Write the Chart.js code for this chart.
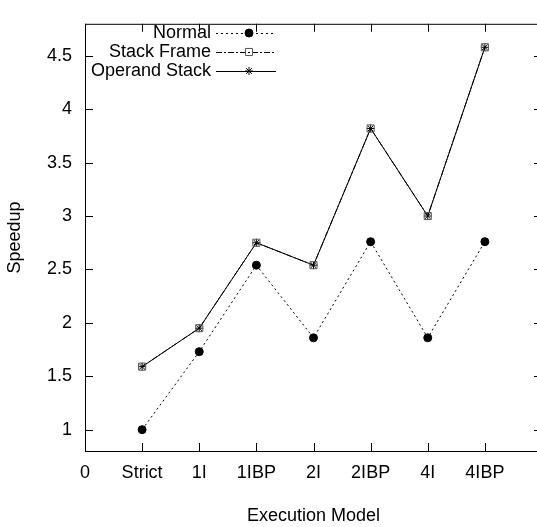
<!DOCTYPE html>
<html>
<head>
<meta charset="utf-8">
<script src="https://cdn.jsdelivr.net/npm/chart.js@4/dist/chart.umd.min.js"></script>
<style>
  html, body { margin: 0; padding: 0; background: #fff; overflow: hidden; }
  #wrap { width: 548px; height: 527px; }
</style>
</head>
<body>
<div id="wrap"><canvas id="chart"></canvas></div>
<script>
// execution models, x = 1..7 (0 is just the axis origin)
const models = ['Strict', '1I', '1IBP', '2I', '2IBP', '4I', '4IBP'];
const xTickLabels = ['0', 'Strict', '1I', '1IBP', '2I', '2IBP', '4I', '4IBP'];
const normal = [1.0, 1.73, 2.54, 1.86, 2.76, 1.86, 2.76];
const stackFrame = [1.59, 1.95, 2.75, 2.54, 3.82, 3.0, 4.58];
const operandStack = [1.59, 1.95, 2.75, 2.54, 3.82, 3.0, 4.58];
const yTicks = [1, 1.5, 2, 2.5, 3, 3.5, 4, 4.5];

const FONT = 'Liberation Sans, Arial, Helvetica, sans-serif';

function points(vals) {
    return vals.map((v, i) => ({ x: i + 1, y: v }));
}

// gnuplot style: frame + inward ticks on all sides, legend top right
const framePlugin = {
    id: 'frame',
    afterDatasetsDraw(chart) {
        const ctx = chart.ctx;
        const a = chart.chartArea;
        const xs = chart.scales.x, ys = chart.scales.y;
        ctx.save();
        ctx.strokeStyle = '#000';
        ctx.lineWidth = 1;
        ctx.strokeRect(a.left + 0.5, a.top + 0.5, a.right - a.left, a.bottom - a.top);
        ctx.beginPath();
        xs.ticks.forEach((t, i) => {
            const px = Math.round(xs.getPixelForTick(i)) + 0.5;
            ctx.moveTo(px, a.bottom); ctx.lineTo(px, a.bottom - 8);
            ctx.moveTo(px, a.top); ctx.lineTo(px, a.top + 8);
        });
        ys.ticks.forEach((t, i) => {
            const py = Math.round(ys.getPixelForTick(i)) + 0.5;
            ctx.moveTo(a.left, py); ctx.lineTo(a.left + 8, py);
            ctx.moveTo(a.right, py); ctx.lineTo(a.right - 8, py);
        });
        ctx.stroke();

        // legend
        ctx.font = '18px ' + FONT;
        ctx.textAlign = 'right';
        ctx.textBaseline = 'middle';
        chart.data.datasets.forEach((ds, i) => {
            const y = 33 + i * 19;
            ctx.fillStyle = '#000';
            ctx.fillText(ds.label, 211, y);
            ctx.beginPath();
            ctx.setLineDash(ds.borderDash || []);
            ctx.strokeStyle = ds.borderColor;
            ctx.lineWidth = ds.borderWidth;
            ctx.moveTo(216, y + 0.5);
            ctx.lineTo(276, y + 0.5);
            ctx.stroke();
            ctx.setLineDash([]);
            ctx.fillStyle = ds.pointBackgroundColor;
            ctx.strokeStyle = ds.pointBorderColor;
            ctx.lineWidth = 1;
            Chart.helpers.drawPoint(ctx, {
                pointStyle: ds.pointStyle,
                radius: ds.pointRadius,
                borderWidth: 1
            }, 249, y);
        });
        ctx.restore();
    }
};

const datasets = [
    {
        label: 'Normal',
        data: points(normal),
        borderColor: '#000',
        borderWidth: 1,
        borderDash: [2, 3],
        pointStyle: 'circle',
        pointRadius: 4,
        pointBackgroundColor: '#000',
        pointBorderColor: '#000'
    },
    {
        label: 'Stack Frame',
        data: points(stackFrame),
        borderColor: '#000',
        borderWidth: 1,
        borderDash: [6, 2, 2, 2],
        pointStyle: 'rect',
        pointRadius: 5,
        pointBackgroundColor: 'rgba(0,0,0,0)',
        pointBorderColor: '#555'
    },
    {
        label: 'Operand Stack',
        data: points(operandStack),
        borderColor: '#000',
        borderWidth: 1,
        pointStyle: 'star',
        pointRadius: 4,
        pointBackgroundColor: 'rgba(0,0,0,0)',
        pointBorderColor: '#000'
    }
];

new Chart(document.getElementById('chart'), {
    type: 'line',
    data: { datasets: datasets },
    options: {
        responsive: true,
        maintainAspectRatio: false,
        animation: false,
        layout: { padding: { top: 12, right: 2, left: 0, bottom: 0 } },
        plugins: { legend: { display: false }, tooltip: { enabled: false } },
        elements: { line: { tension: 0, fill: false } },
        scales: {
            x: {
                type: 'linear',
                min: 0,
                max: 8,
                grid: { display: false, drawTicks: false },
                border: { display: false },
                afterBuildTicks(scale) {
                    scale.ticks = xTickLabels.map((_, i) => ({ value: i }));
                },
                ticks: {
                    autoSkip: false,
                    maxRotation: 0,
                    padding: 11,
                    color: '#000',
                    font: { family: FONT, size: 18 },
                    callback: (v) => xTickLabels[v]
                },
                title: {
                    display: true,
                    text: 'Execution Model',
                    color: '#000',
                    font: { family: FONT, size: 18 },
                    padding: { top: 24, bottom: 0 }
                },
                afterFit(scale) { scale.height = 76; }
            },
            y: {
                type: 'linear',
                min: 0.8,
                max: 4.8,
                grid: { display: false, drawTicks: false },
                border: { display: false },
                afterBuildTicks(scale) {
                    scale.ticks = yTicks.map(v => ({ value: v }));
                },
                ticks: {
                    padding: 13,
                    color: '#000',
                    font: { family: FONT, size: 18 },
                    callback: (v) => String(v)
                },
                title: {
                    display: true,
                    text: 'Speedup',
                    color: '#000',
                    font: { family: FONT, size: 18 },
                    padding: { top: 4, bottom: 0 }
                },
                afterFit(scale) { scale.width = 85; }
            }
        }
    },
    plugins: [framePlugin]
});
</script>
</body>
</html>
